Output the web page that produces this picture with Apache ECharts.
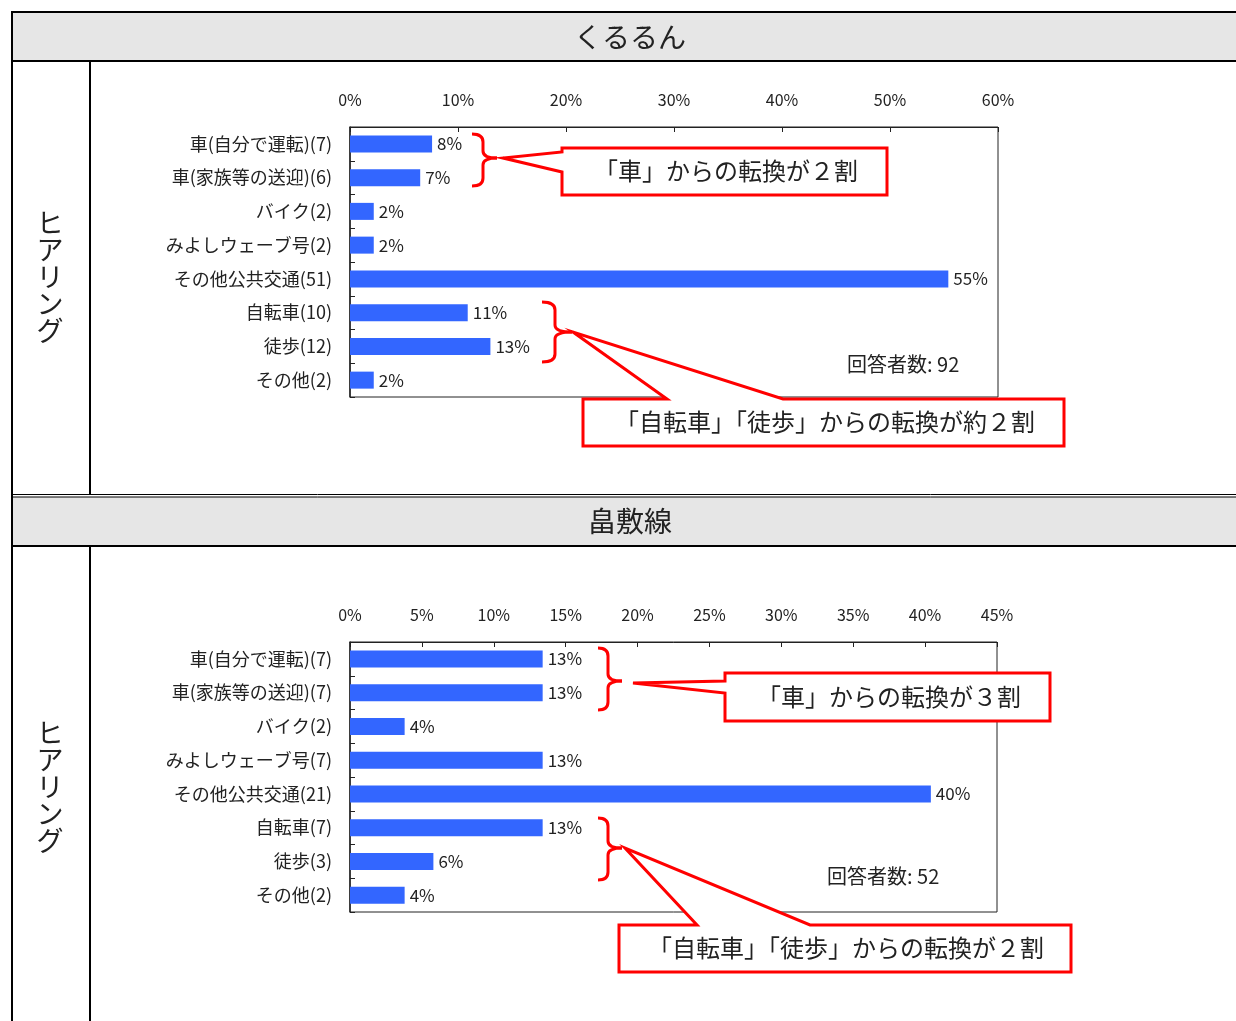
<!DOCTYPE html>
<html>
<head>
<meta charset="utf-8">
<script src="https://cdn.jsdelivr.net/npm/echarts@6/dist/echarts.min.js"></script>
<style>
html, body { margin: 0; padding: 0; background: #fff; }
#main { width: 1236px; height: 1021px; }
</style>
</head>
<body>
<div id="main"></div>
<script>
// くるるん
var titles = ['くるるん', '畠敷線'];
var cats1 = ['車(自分で運転)(7)', '車(家族等の送迎)(6)', 'バイク(2)', 'みよしウェーブ号(2)', 'その他公共交通(51)', '自転車(10)', '徒歩(12)', 'その他(2)'];
var vals1 = [7.6, 6.5, 2.2, 2.2, 55.4, 10.9, 13.0, 2.2];
var max1 = 60, step1 = 10;
var count1 = '回答者数: 92';
// 畠敷線
var cats2 = ['車(自分で運転)(7)', '車(家族等の送迎)(7)', 'バイク(2)', 'みよしウェーブ号(7)', 'その他公共交通(21)', '自転車(7)', '徒歩(3)', 'その他(2)'];
var vals2 = [13.4, 13.4, 3.8, 13.4, 40.4, 13.4, 5.8, 3.8];
var max2 = 45, step2 = 5;
var count2 = '回答者数: 52';
var notes = ['「車」からの転換が２割', '「自転車」「徒歩」からの転換が約２割', '「車」からの転換が３割', '「自転車」「徒歩」からの転換が２割'];

var FONT = '"Noto Sans CJK JP", "Noto Sans", sans-serif';
var RED = '#ff0000';

var myChart = echarts.init(document.getElementById('main'));

function xAx(idx, max, step) {
	return {
		type: 'value', gridIndex: idx, position: 'top',
		min: 0, max: max, interval: step,
		axisLine: {show: true, lineStyle: {color: '#222', width: 1}},
		axisTick: {show: true, inside: true, length: 5, lineStyle: {color: '#222'}},
		splitLine: {show: false},
		axisLabel: {formatter: '{value}%', margin: 19, fontSize: 16, color: '#222', fontFamily: FONT}
	};
}
function yAx(idx, cats) {
	return {
		type: 'category', gridIndex: idx, inverse: true, data: cats,
		axisLine: {show: true, lineStyle: {color: '#222', width: 1.5}},
		axisTick: {show: true, inside: true, length: 5, lineStyle: {color: '#222'}},
		axisLabel: {margin: 18, fontSize: 18, color: '#222', fontFamily: FONT, padding: [4, 0, 0, 0]}
	};
}
function bars(idx, vals) {
	return {
		type: 'bar', xAxisIndex: idx, yAxisIndex: idx, data: vals,
		barWidth: 17, itemStyle: {color: '#3366ff'},
		label: {
			show: true, position: 'right', distance: 5, fontSize: 17, color: '#222', fontFamily: FONT,
			formatter: function(p) { return Math.round(p.value) + '%'; }
		}
	};
}
// 波括弧
function seg(x1, y1, x2, y2) {
	return {type: 'line', shape: {x1: x1, y1: y1, x2: x2, y2: y2}, style: {stroke: RED, lineWidth: 3}};
}
function curve(x1, y1, x2, y2, cx, cy) {
	return {type: 'bezierCurve', shape: {x1: x1, y1: y1, x2: x2, y2: y2, cpx1: cx, cpy1: cy}, style: {stroke: RED, lineWidth: 3, fill: null}};
}
function brace(x0, stemX, tipX, yTop, yMid, yBot) {
	return {
		type: 'group', z: 10,
		children: [
			curve(x0, yTop, stemX, yTop + 8, stemX, yTop),
			seg(stemX, yTop + 8, stemX, yMid - 7),
			curve(stemX, yMid - 7, tipX, yMid, stemX, yMid),
			curve(tipX, yMid, stemX, yMid + 7, stemX, yMid),
			seg(stemX, yMid + 7, stemX, yBot - 8),
			curve(stemX, yBot - 8, x0, yBot, stemX, yBot)
		]
	};
}
function callout(pts) {
	return {type: 'polygon', shape: {points: pts}, style: {fill: '#fff', stroke: RED, lineWidth: 3, lineJoin: 'miter'}, z: 10};
}
function txt(x, y, s, size, align) {
	return {type: 'text', x: x, y: y, z: 11, style: {text: s, fontSize: size, fontFamily: FONT, fill: '#222', align: align || 'center', verticalAlign: 'middle'}};
}
function hline(x1, x2, y, w) {
	return {type: 'line', shape: {x1: x1, y1: y, x2: x2, y2: y}, style: {stroke: '#000', lineWidth: w}, z: 5};
}
function vline(x, y1, y2, w) {
	return {type: 'line', shape: {x1: x, y1: y1, x2: x, y2: y2}, style: {stroke: '#000', lineWidth: w}, z: 5};
}

var graphics = [
	// 表の枠
	{type: 'rect', shape: {x: 11, y: 11, width: 1230, height: 50}, style: {fill: '#e6e6e6'}, z: 1},
	{type: 'rect', shape: {x: 11, y: 497, width: 1230, height: 49}, style: {fill: '#e6e6e6'}, z: 1},
	hline(11, 1240, 12, 2),
	hline(11, 1240, 61, 2),
	hline(11, 1240, 494.5, 1),
	hline(11, 1240, 497, 1),
	hline(11, 1240, 546, 2),
	vline(12, 11, 1025, 2),
	vline(90, 61, 494, 2),
	vline(90, 546, 1025, 2),
	txt(630, 37, titles[0], 28),
	txt(630, 521, titles[1], 28),
	{type: 'text', x: 50, y: 277, z: 5, style: {text: 'ヒ\nア\nリ\nン\nグ', fontSize: 27, lineHeight: 27, fontFamily: FONT, fill: '#222', align: 'center', verticalAlign: 'middle'}},
	{type: 'text', x: 50, y: 787, z: 5, style: {text: 'ヒ\nア\nリ\nン\nグ', fontSize: 27, lineHeight: 27, fontFamily: FONT, fill: '#222', align: 'center', verticalAlign: 'middle'}},
	txt(847, 364, count1, 20, 'left'),
	txt(827, 876, count2, 20, 'left'),
	// 注記 上
	brace(472, 483, 497, 134, 158, 186),
	callout([[562, 148], [887, 148], [887, 195], [562, 195], [562, 172], [503, 158], [562, 152]]),
	txt(726, 171, notes[0], 24),
	brace(542, 555, 572, 302, 332, 362),
	callout([[583, 399], [667, 399], [573, 332], [783, 399], [1064, 399], [1064, 446], [583, 446]]),
	txt(825, 422, notes[1], 24),
	// 注記 下
	brace(598, 608, 622, 648, 681, 710),
	callout([[725, 673], [1050, 673], [1050, 721], [725, 721], [725, 693], [633, 683], [725, 681]]),
	txt(889, 697, notes[2], 24),
	brace(598, 608, 622, 818, 848, 880),
	callout([[619, 925], [697, 925], [625, 848], [810, 925], [1071, 925], [1071, 972], [619, 972]]),
	txt(846, 948, notes[3], 24)
];

option = {
	animation: false,
	backgroundColor: '#fff',
	textStyle: {fontFamily: FONT},
	grid: [
		{left: 350, top: 127, width: 648, height: 270, show: true, borderColor: '#222', borderWidth: 1, backgroundColor: 'transparent'},
		{left: 350, top: 642, width: 647, height: 270, show: true, borderColor: '#222', borderWidth: 1, backgroundColor: 'transparent'}
	],
	xAxis: [xAx(0, max1, step1), xAx(1, max2, step2)],
	yAxis: [yAx(0, cats1), yAx(1, cats2)],
	series: [bars(0, vals1), bars(1, vals2)],
	graphic: graphics
};
myChart.setOption(option);
window.onresize = myChart.resize;
</script>
</body>
</html>
